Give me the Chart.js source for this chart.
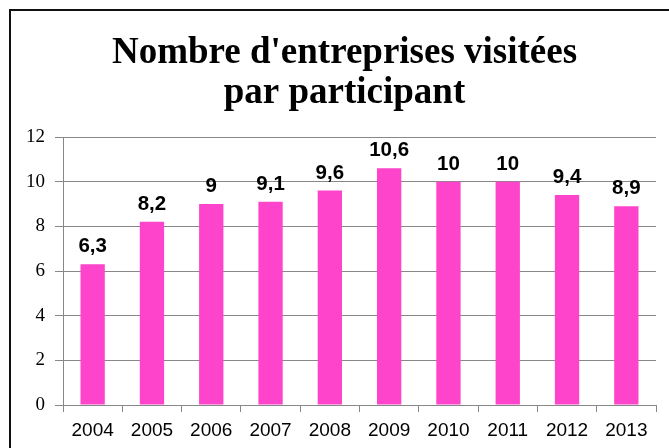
<!DOCTYPE html>
<html>
<head>
<meta charset="utf-8">
<script src="https://cdn.jsdelivr.net/npm/chart.js@4/dist/chart.umd.min.js"></script>
<style>
  html, body { margin: 0; padding: 0; background: #ffffff; overflow: hidden; width: 669px; height: 448px; }
  #frame { position: absolute; left: 9px; top: 9px; width: 800px; height: 600px; border-top: 2px solid #111; border-left: 2px solid #111; box-sizing: border-box; }
  #wrap { position: absolute; left: 0; top: 0; width: 669px; height: 448px; }
</style>
</head>
<body>
<div id="frame"></div>
<div id="wrap"><canvas id="c" width="669" height="448"></canvas></div>
<script>
const titleLines = ["Nombre d'entreprises visitées", "par participant"];
const categories = ["2004", "2005", "2006", "2007", "2008", "2009", "2010", "2011", "2012", "2013"];
const values = [6.3, 8.2, 9, 9.1, 9.6, 10.6, 10, 10, 9.4, 8.9];
const yTicks = [0, 2, 4, 6, 8, 10, 12];

const barColor = '#FF44CC';
const gridColor = '#888888';

const valueLabels = {
  id: 'valueLabels',
  afterLayout(chart) {
    // the original chart frame is wider than the window: centre the title on it
    if (chart.titleBlock) {
      chart.titleBlock.left = 33;
      chart.titleBlock.right = 656;
    }
  },
  afterDatasetsDraw(chart) {
    const ctx = chart.ctx;
    const meta = chart.getDatasetMeta(0);
    ctx.save();
    ctx.font = 'bold 20.5px "Liberation Sans", Arial, sans-serif';
    ctx.fillStyle = '#000';
    ctx.textAlign = 'center';
    ctx.textBaseline = 'alphabetic';
    meta.data.forEach((el, i) => {
      const txt = String(values[i]).replace('.', ',');
      ctx.fillText(txt, el.x, el.y - 12);
    });
    ctx.restore();
  }
};

new Chart(document.getElementById('c'), {
  type: 'bar',
  data: {
    labels: categories,
    datasets: [{
      data: values,
      backgroundColor: barColor,
      borderWidth: 0,
      categoryPercentage: 1,
      barPercentage: 0.41
    }]
  },
  options: {
    responsive: false,
    animation: false,
    devicePixelRatio: 1,
    layout: { padding: { left: 0, right: 13, top: 0, bottom: 0 } },
    plugins: {
      legend: { display: false },
      tooltip: { enabled: false },
      title: {
        display: true,
        text: titleLines,
        color: '#000',
        font: { family: '"Liberation Serif", "Times New Roman", serif', size: 37, weight: 'bold', lineHeight: '40px' },
        padding: { top: 33, bottom: 24 }
      }
    },
    scales: {
      x: {
        offset: true,
        grid: { display: true, drawOnChartArea: false, drawTicks: true, tickLength: 7, color: gridColor, offset: true },
        border: { display: true, color: gridColor },
        ticks: { color: '#000', font: { family: '"Liberation Sans", Arial, sans-serif', size: 19 }, padding: 7, maxRotation: 0, autoSkip: false },
        afterFit(scale) { scale.height = 43; }
      },
      y: {
        min: 0,
        max: 12,
        afterBuildTicks(scale) { scale.ticks = yTicks.map(v => ({ value: v })); },
        grid: { color: gridColor, tickLength: 8, drawTicks: true },
        border: { display: true, color: gridColor },
        ticks: { color: '#000', font: { family: '"Liberation Serif", "Times New Roman", serif', size: 19 }, padding: 10 },
        afterFit(scale) { scale.width = 63; }
      }
    }
  },
  plugins: [valueLabels]
});
</script>
</body>
</html>
